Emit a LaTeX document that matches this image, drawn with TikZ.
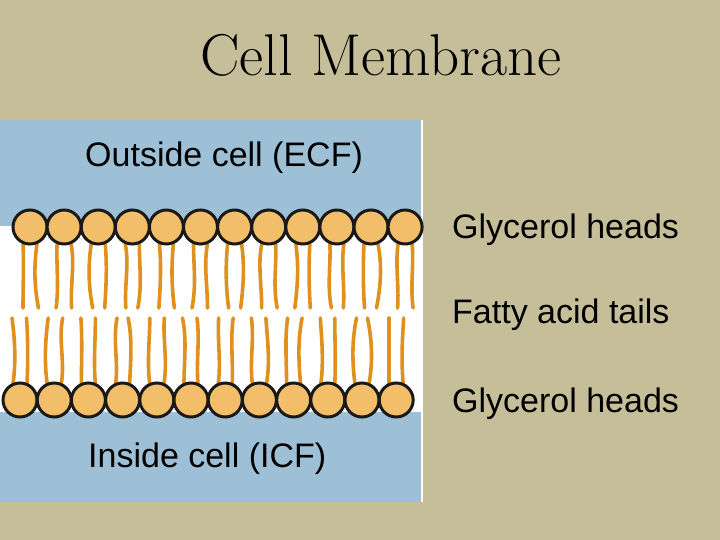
\documentclass[tikz,border=0pt]{standalone}
\usepackage{fontspec}
\newfontfamily\arial{Liberation Sans}
\begin{document}
\begin{tikzpicture}[x=1bp,y=-1bp,
  head/.style={circle,draw=black!90,line width=3bp,fill=headfill,minimum size=34bp,inner sep=0pt},
  tail/.style={draw=tailc,line width=3.6bp,line cap=round},
  lab/.style={font=\arial\fontsize{34bp}{38bp}\selectfont,anchor=west,inner sep=0pt}]
\definecolor{bg}{HTML}{C5BE98}
\definecolor{panel}{HTML}{9DC0D6}
\definecolor{headfill}{HTML}{F3BE6A}
\definecolor{tailc}{HTML}{E0901C}
\fill[bg] (0,0) rectangle (720,540);
\useasboundingbox (0,0) rectangle (720,540);
\fill[panel] (0,120) rectangle (422,502);
\fill[white] (0,226) rectangle (422,412);
\draw[white,line width=2bp] (422,120) -- (422,502);
% tails
\foreach \i in {0,...,11}{
  \foreach \s/\k in {-1/1,1/2}{
    \pgfmathsetmacro{\xa}{30+34.1*\i+7*\s}
    \pgfmathsetmacro{\da}{mod(\i*7+\k*5,9)-4}
    \pgfmathsetmacro{\db}{mod(\i*5+\k*3,7)-3}
    \draw[tail] (\xa,244) .. controls (\xa+\da,265) and (\xa-\db,285) .. (\xa+0.5*\db,308);
    \pgfmathsetmacro{\xb}{20+34.2*\i+7*\s}
    \pgfmathsetmacro{\dc}{mod(\i*3+\k*7,9)-4}
    \pgfmathsetmacro{\dd}{mod(\i*11+\k,7)-3}
    \draw[tail] (\xb+0.5*\dd,318) .. controls (\xb-\dd,340) and (\xb+\dc,362) .. (\xb,384);
  }
}
\foreach \i in {0,...,11}{
  \node[head] (t\i) at (30+34.1*\i,227) {};
  \node[head] (b\i) at (20+34.2*\i,400) {};
}
\node[font=\fontsize{59bp}{64bp}\selectfont] (title) at (381,55) {Cell Membrane};
\node[lab] (ecf) at (85,158) {Outside cell (ECF)};
\node[lab] (gh1) at (452,230) {Glycerol heads};
\node[lab] (fat) at (452,315) {Fatty acid tails};
\node[lab] (gh2) at (452,404) {Glycerol heads};
\node[lab] (icf) at (88,459) {Inside cell (ICF)};
\end{tikzpicture}
\end{document}
